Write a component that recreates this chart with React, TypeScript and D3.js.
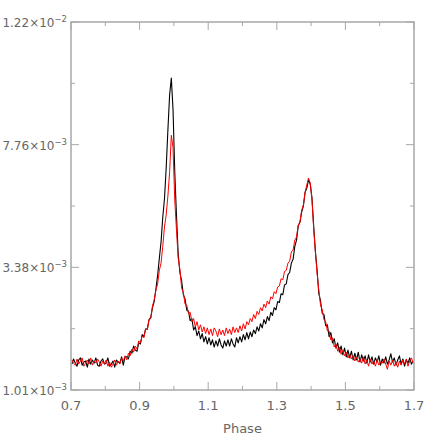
import React from 'react'
import * as d3 from 'd3'

// pulse profile, 200 phase bins of 0.005 from 0.7, values in units of 1e-3
const phaseStart = 0.7
const binWidth = 0.005

const black = [
  1.51, 1.61, 1.53, 1.47, 1.59, 1.63, 1.49, 1.55, 1.57, 1.45,
  1.61, 1.51, 1.59, 1.53, 1.63, 1.49, 1.47, 1.57, 1.61, 1.51,
  1.53, 1.63, 1.47, 1.51, 1.57, 1.45, 1.59, 1.55, 1.53, 1.65,
  1.49, 1.65, 1.65, 1.61, 1.76, 1.72, 1.86, 1.78, 1.76, 1.92,
  1.90, 2.08, 2.04, 2.19, 2.19, 2.37, 2.41, 2.60, 2.72, 2.96,
  3.22, 3.70, 4.28, 5.17, 5.82, 6.93, 8.29, 9.56, 10.17, 9.02,
  6.79, 5.25, 3.86, 3.28, 3.12, 2.85, 2.77, 2.55, 2.53, 2.35,
  2.39, 2.17, 2.23, 2.06, 2.15, 2.00, 2.10, 1.94, 2.04, 1.90,
  2.02, 1.88, 1.98, 1.84, 1.96, 1.86, 2.00, 1.88, 1.82, 1.96,
  1.86, 1.98, 1.86, 2.00, 1.90, 1.84, 2.02, 1.92, 2.04, 1.94,
  2.08, 1.98, 2.12, 2.00, 2.13, 2.04, 2.17, 2.10, 2.23, 2.15,
  2.29, 2.21, 2.37, 2.29, 2.43, 2.35, 2.51, 2.45, 2.60, 2.56,
  2.72, 2.70, 2.87, 2.85, 3.04, 3.06, 3.24, 3.28, 3.53, 3.67,
  4.13, 4.35, 4.86, 4.99, 5.35, 5.57, 6.06, 6.21, 6.50, 6.35,
  5.86, 4.86, 3.96, 3.32, 2.87, 2.73, 2.49, 2.47, 2.25, 2.27,
  2.04, 2.12, 1.92, 2.00, 1.82, 1.92, 1.74, 1.86, 1.69, 1.82,
  1.65, 1.78, 1.63, 1.76, 1.59, 1.72, 1.59, 1.74, 1.55, 1.69,
  1.57, 1.67, 1.53, 1.69, 1.55, 1.65, 1.51, 1.63, 1.55, 1.67,
  1.49, 1.61, 1.53, 1.65, 1.51, 1.59, 1.71, 1.55, 1.63, 1.49,
  1.59, 1.67, 1.51, 1.61, 1.47, 1.59, 1.53, 1.63, 1.51, 1.57
]

const red = [
  1.59, 1.53, 1.49, 1.61, 1.51, 1.57, 1.63, 1.47, 1.53, 1.59,
  1.51, 1.63, 1.49, 1.57, 1.53, 1.61, 1.55, 1.47, 1.57, 1.51,
  1.59, 1.47, 1.55, 1.45, 1.51, 1.59, 1.49, 1.57, 1.51, 1.63,
  1.57, 1.67, 1.59, 1.72, 1.67, 1.80, 1.74, 1.86, 1.80, 1.96,
  1.92, 2.06, 2.02, 2.19, 2.17, 2.37, 2.39, 2.63, 2.75, 2.94,
  3.06, 3.32, 3.53, 4.13, 4.82, 5.25, 5.93, 6.79, 8.10, 7.65,
  5.78, 4.71, 3.70, 3.34, 2.98, 2.89, 2.67, 2.65, 2.49, 2.51,
  2.33, 2.39, 2.23, 2.33, 2.17, 2.27, 2.13, 2.23, 2.10, 2.21,
  2.08, 2.19, 2.06, 2.21, 2.15, 2.04, 2.19, 2.08, 2.17, 2.06,
  2.21, 2.10, 2.19, 2.08, 2.23, 2.12, 2.21, 2.12, 2.25, 2.15,
  2.29, 2.19, 2.33, 2.27, 2.39, 2.33, 2.47, 2.39, 2.53, 2.47,
  2.60, 2.54, 2.67, 2.60, 2.73, 2.67, 2.81, 2.77, 2.91, 2.87,
  3.00, 3.02, 3.16, 3.14, 3.30, 3.32, 3.53, 3.60, 3.93, 4.00,
  4.35, 4.46, 4.89, 4.99, 5.42, 5.60, 6.06, 6.32, 6.57, 6.39,
  5.82, 4.75, 3.93, 3.26, 2.94, 2.65, 2.56, 2.37, 2.33, 2.15,
  2.15, 1.98, 2.02, 1.84, 1.90, 1.76, 1.84, 1.70, 1.78, 1.67,
  1.74, 1.63, 1.70, 1.61, 1.67, 1.57, 1.65, 1.55, 1.61, 1.53,
  1.65, 1.51, 1.59, 1.47, 1.61, 1.51, 1.57, 1.47, 1.59, 1.49,
  1.55, 1.53, 1.61, 1.51, 1.41, 1.57, 1.49, 1.59, 1.47, 1.55,
  1.45, 1.57, 1.49, 1.59, 1.51, 1.61, 1.47, 1.57, 1.63, 1.53
]

const xMajor = [0.7, 0.9, 1.1, 1.3, 1.5, 1.7]
const xMinor = [0.8, 1.0, 1.2, 1.4, 1.6]
const yTicks = [1.01, 3.38, 7.76, 12.2]
const yMantissa = ['1.01', '3.38', '7.76', '1.22']
const yExponent = ['\u22123', '\u22123', '\u22123', '\u22122']

const axisColor = '#a8a8a8'
const textColor = '#666'
const font = 'DejaVu Sans, sans-serif'

export default function App() {
  const width = 436
  const height = 436
  const left = 71, right = 414, top = 22, bottom = 390

  const x = d3.scaleLinear().domain([0.7, 1.7]).range([left, right])
  // axis ticks are evenly spaced on the page, so the value scale is piecewise
  const y = d3.scaleLinear()
    .domain(yTicks)
    .range(yTicks.map((_, i) => bottom - i * (bottom - top) / (yTicks.length - 1)))
  const yMinor = d3.pairs(yTicks).map(([a, b]) => (a + b) / 2)

  // one point per bin, at the bin centre
  const toPoints = (vals: number[]): [number, number][] =>
    vals.map((v, i) => [phaseStart + (i + 0.5) * binWidth, v])
  const line = d3.line<[number, number]>()
    .x(d => x(d[0]))
    .y(d => y(d[1]))

  return (
    <div style={{ position: 'fixed', left: 0, top: 0 }}>
      <svg width={width} height={height} viewBox={`0 0 ${width} ${height}`} style={{ display: 'block', background: '#fff' }}>
        <g fill="none" strokeWidth={1} strokeLinejoin="round">
          <path d={line(toPoints(black)) || ''} stroke="#000" strokeWidth={1.1} />
          <path d={line(toPoints(red)) || ''} stroke="#ff0000" />
        </g>
        <rect x={left} y={top} width={right - left} height={bottom - top} fill="none" stroke={axisColor} strokeWidth={1.5} />
        <g stroke={axisColor} strokeWidth={1}>
          {xMajor.map(t => (
            <g key={'xM' + t}>
              <line x1={x(t)} x2={x(t)} y1={bottom} y2={bottom - 8} />
              <line x1={x(t)} x2={x(t)} y1={top} y2={top + 8} />
            </g>
          ))}
          {xMinor.map(t => (
            <g key={'xm' + t}>
              <line x1={x(t)} x2={x(t)} y1={bottom} y2={bottom - 4} />
              <line x1={x(t)} x2={x(t)} y1={top} y2={top + 4} />
            </g>
          ))}
          {yTicks.map(t => (
            <g key={'yM' + t}>
              <line x1={left} x2={left + 8} y1={y(t)} y2={y(t)} />
              <line x1={right} x2={right - 8} y1={y(t)} y2={y(t)} />
            </g>
          ))}
          {yMinor.map(t => (
            <g key={'ym' + t}>
              <line x1={left} x2={left + 4} y1={y(t)} y2={y(t)} />
              <line x1={right} x2={right - 4} y1={y(t)} y2={y(t)} />
            </g>
          ))}
        </g>
        <g fill={textColor} fontFamily={font} fontSize={13}>
          {xMajor.map(t => (
            <text key={'xl' + t} x={x(t)} y={410} textAnchor="middle">{t.toFixed(1)}</text>
          ))}
          {yTicks.map((t, i) => (
            <text key={'yl' + t} x={67} y={y(t) + 5} textAnchor="end" fontSize={12}>
              {yMantissa[i]}×10<tspan dy={-5} fontSize={8.5}>{yExponent[i]}</tspan>
            </text>
          ))}
          <text x={(left + right) / 2} y={433} textAnchor="middle">Phase</text>
        </g>
      </svg>
    </div>
  )
}
